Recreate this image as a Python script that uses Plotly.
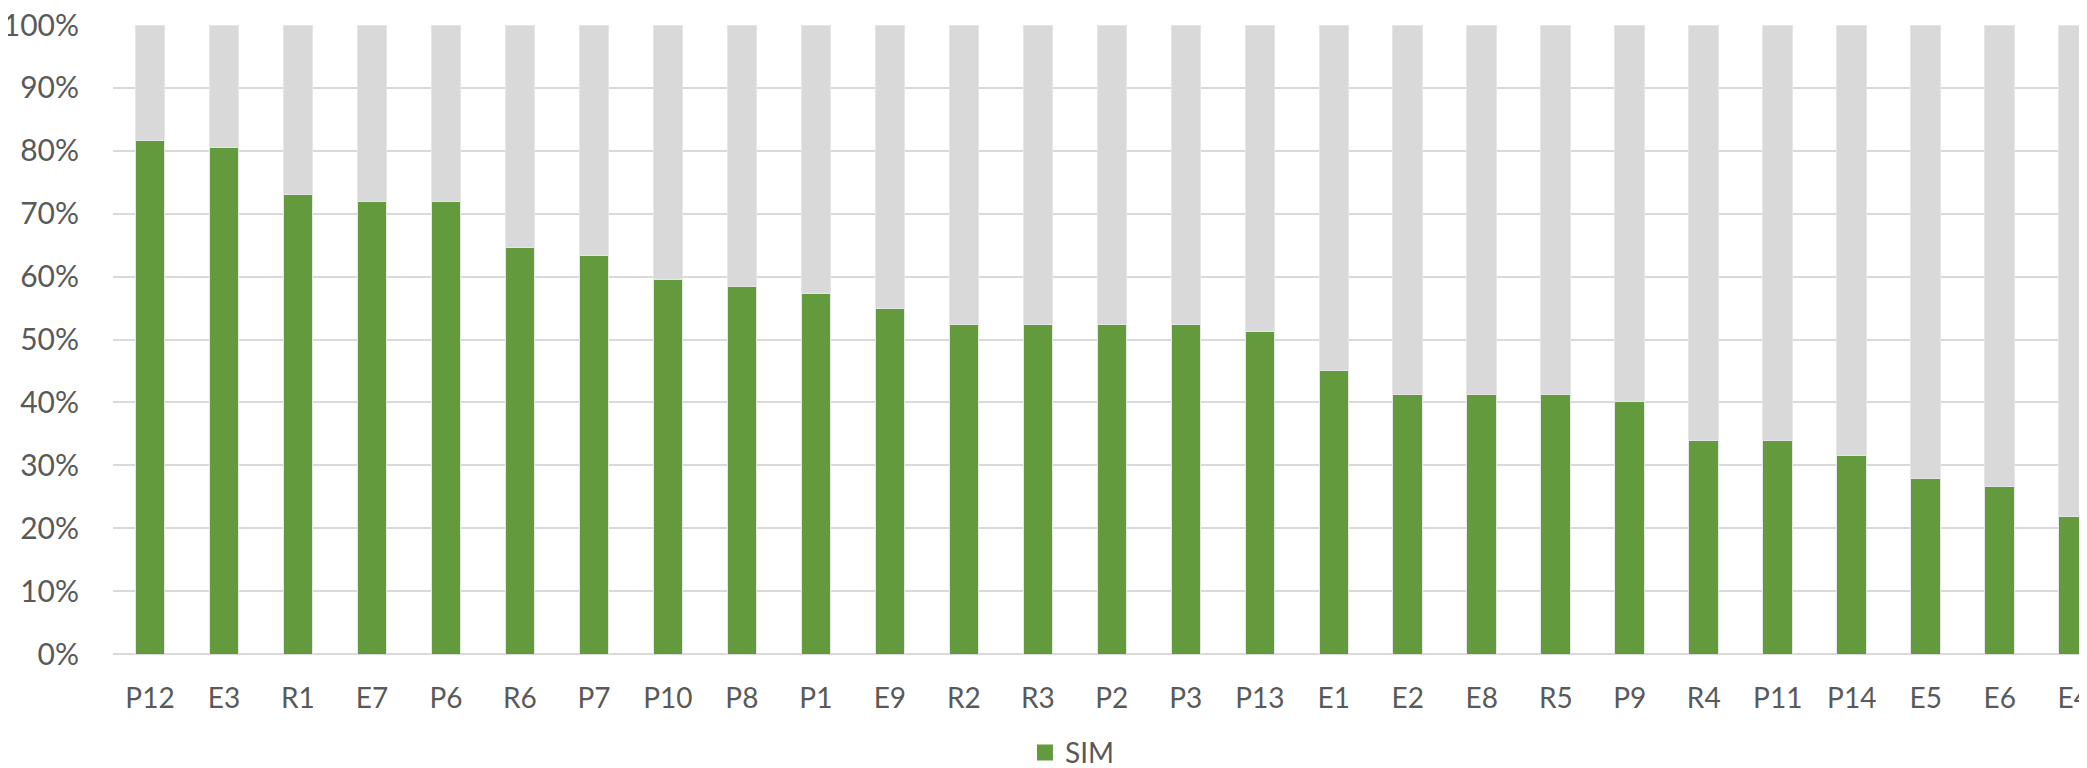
import plotly.graph_objects as go

# Share of "SIM" answers per item, sorted descending
items = ["P12", "E3", "R1", "E7", "P6", "R6", "P7", "P10", "P8", "P1", "E9",
         "R2", "R3", "P2", "P3", "P13", "E1", "E2", "E8", "R5", "P9", "R4",
         "P11", "P14", "E5", "E6", "E4"]
sim = [81.6, 80.5, 73.1, 71.9, 71.9, 64.6, 63.3, 59.6, 58.5, 57.3, 54.9,
       52.4, 52.4, 52.4, 52.4, 51.2, 45.0, 41.3, 41.3, 41.3, 40.1, 33.9,
       33.9, 31.6, 27.9, 26.7, 21.8]
rest = [round(100 - v, 1) for v in sim]

GREEN = "#629A3D"
GREY = "#D9D9D9"
TXT = "#595959"

fig = go.Figure()
fig.add_trace(go.Bar(x=items, y=sim, name="SIM", marker_color=GREEN,
                     marker_line=dict(color="#E6E6E6", width=1),
                     showlegend=False))
fig.add_trace(go.Bar(x=items, y=rest, name="NÃO", marker_color=GREY,
                     marker_line=dict(color="#E6E6E6", width=1),
                     showlegend=False))
# legend entry with a larger square swatch
fig.add_trace(go.Scatter(x=[None], y=[None], mode="markers", name="SIM",
                         marker=dict(symbol="square", size=16, color=GREEN)))

# page body has an 8px default margin, so the figure is sized to fit
fig.update_layout(
    barmode="stack",
    bargap=0.6,
    width=2079, height=760,
    margin=dict(l=105, r=0, t=17, b=114),
    plot_bgcolor="white",
    paper_bgcolor="white",
    font=dict(family="Lato, Open Sans, sans-serif", size=28, color=TXT),
    legend=dict(orientation="h", x=0.512, xref="container", xanchor="center",
                y=0.02, yref="container", yanchor="middle",
                font=dict(size=28, color=TXT), itemwidth=30),
    showlegend=True,
)
fig.update_xaxes(range=[-0.5, 26.18], showgrid=False, showline=False,
                 ticks="outside", ticklen=19, tickcolor="rgba(0,0,0,0)",
                 automargin=False, ticklabeloverflow="allow",
                 tickfont=dict(size=28, color=TXT))
fig.update_yaxes(range=[0, 100], dtick=10, ticksuffix="%",
                 showgrid=True, gridcolor=GREY, gridwidth=1.5,
                 zeroline=True, zerolinecolor=GREY, zerolinewidth=1.5,
                 ticks="outside", ticklen=27, tickcolor="rgba(0,0,0,0)",
                 automargin=False, ticklabeloverflow="allow",
                 tickfont=dict(size=30, color=TXT))

fig.write_html("out.html")
